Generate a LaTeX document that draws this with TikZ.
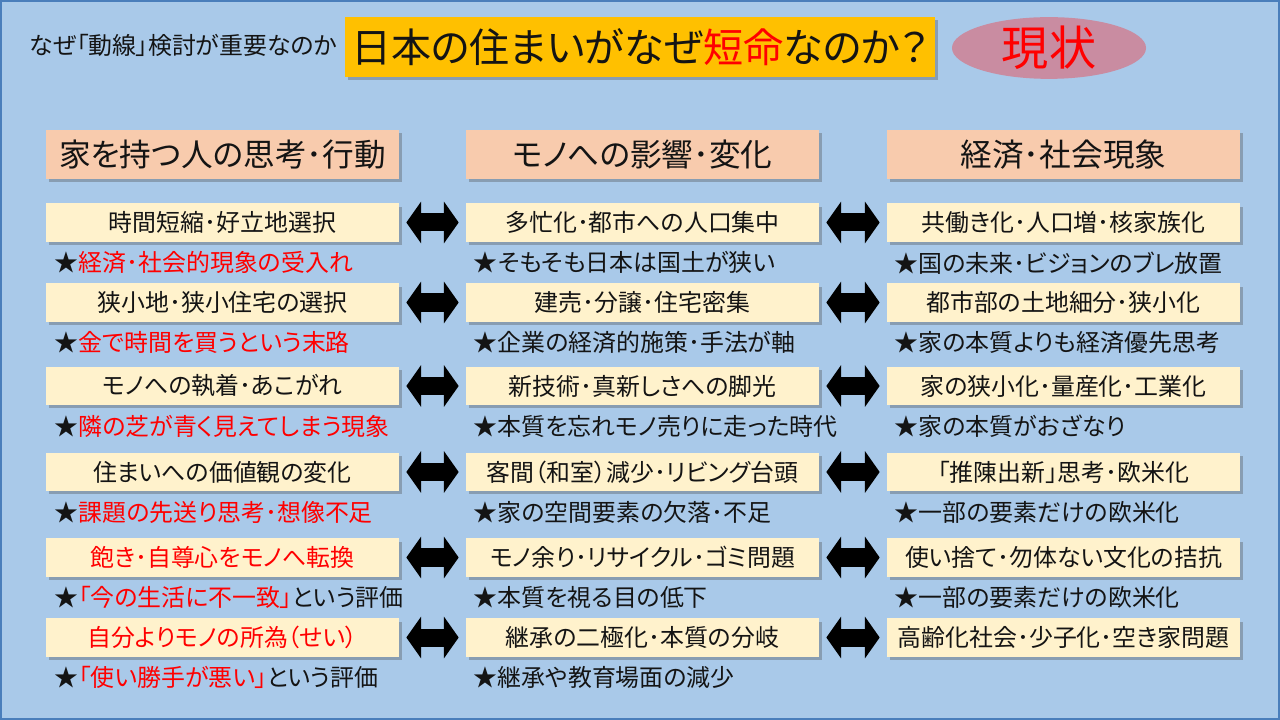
\documentclass[tikz,border=0pt]{standalone}
\usepackage{fontspec}
\setmainfont[RawFeature=+palt]{Noto Sans CJK JP}
\usetikzlibrary{arrows.meta,positioning,calc,shadows,shapes.geometric}
\definecolor{ink}{HTML}{141414}
\definecolor{alert}{HTML}{FF0000}
\definecolor{sky}{HTML}{A9C9E9}
\definecolor{skyline}{HTML}{4A7EBB}
\definecolor{gold}{HTML}{FFC000}
\definecolor{peach}{HTML}{F8CBAD}
\definecolor{cream}{HTML}{FFF2CC}
\definecolor{rose}{HTML}{C98CA1}
\newcommand{\bodyfont}{\fontsize{17}{20}\selectfont}
\tikzset{
  every node/.style={text=ink, inner sep=0pt},
  shade/.style={drop shadow={shadow xshift=0.07cm, shadow yshift=-0.08cm, opacity=0.35, fill=black!70}},
  panel/.style={shade, minimum width=8.825cm, minimum height=0.95cm, font=\bodyfont},
  head/.style={panel, fill=peach, minimum height=1.225cm, font=\fontsize{22.5}{26}\selectfont},
  item/.style={panel, fill=cream},
  note/.style={anchor=west, font=\bodyfont},
  link/.style={{Triangle[length=0.37cm,width=1.03cm]}-{Triangle[length=0.37cm,width=1.03cm]}, line width=0.45cm, draw=black, shorten <=0.175cm, shorten >=0.175cm},
}
\newcommand{\itemrow}[8]{% #1 row, #2 y, then box / note for each column
  \node[item] (a#1) at (222.5,#2) {#3};
  \node[note] (na#1) at ($(a#1.south west)+(9,21)$) {#4};
  \node[item] (b#1) at (642.5,#2) {#5};
  \node[note] (nb#1) at ($(b#1.south west)+(8,21)$) {#6};
  \node[item] (c#1) at (1063.5,#2) {#7};
  \node[note] (nc#1) at ($(c#1.south west)+(8,21)$) {#8};
  \draw[link] (a#1) -- (b#1);
  \draw[link] (b#1) -- (c#1);
}

\begin{document}
\begin{tikzpicture}[x=0.025cm, y=-0.025cm]
  \useasboundingbox (0,0) rectangle (1280,720);
  \draw[fill=sky, draw=skyline, line width=0.05cm] (1,1) rectangle (1279,719);

  \node[anchor=west, font=\fontsize{17}{19}\selectfont] (lead) at (29,45) {なぜ「動線」検討が重要なのか};
  \node[shade, fill=gold, minimum width=14.75cm, minimum height=1.5cm, font=\fontsize{28.5}{32}\selectfont] (title) at (640,47) {日本の住まいがなぜ\textcolor{alert}{短命}なのか？};
  \node[ellipse, fill=rose, minimum width=4.85cm, minimum height=1.4cm, text=alert, font=\fontsize{33.5}{38}\selectfont] (state) at (1049,48) {現状};

  \node[head] (h1) at (222.5,154.5) {家を持つ人の思考･行動};
  \node[head] (h2) at (642.5,154.5) {モノへの影響･変化};
  \node[head] (h3) at (1063.5,154.5) {経済･社会現象};

  \itemrow{1}{222.5}{時間短縮･好立地選択}{★\textcolor{alert}{経済･社会的現象の受入れ}}
    {多忙化･都市への人口集中}{★そもそも日本は国土が狭い}
    {共働き化･人口増･核家族化}{★国の未来･ビジョンのブレ放置}
  \itemrow{2}{302.5}{狭小地･狭小住宅の選択}{★\textcolor{alert}{金で時間を買うという末路}}
    {建売･分譲･住宅密集}{★企業の経済的施策･手法が軸}
    {都市部の土地細分･狭小化}{★家の本質よりも経済優先思考}
  \itemrow{3}{386}{モノへの執着･あこがれ}{★\textcolor{alert}{隣の芝が青く見えてしまう現象}}
    {新技術･真新しさへの脚光}{★本質を忘れモノ売りに走った時代}
    {家の狭小化･量産化･工業化}{★家の本質がおざなり}
  \itemrow{4}{472}{住まいへの価値観の変化}{★\textcolor{alert}{課題の先送り思考･想像不足}}
    {客間（和室）減少･リビング台頭}{★家の空間要素の欠落･不足}
    {「推陳出新」思考･欧米化}{★一部の要素だけの欧米化}
  \itemrow{5}{557.5}{\textcolor{alert}{飽き･自尊心をモノへ転換}}{★\textcolor{alert}{「今の生活に不一致」}という評価}
    {モノ余り･リサイクル･ゴミ問題}{★本質を視る目の低下}
    {使い捨て･勿体ない文化の拮抗}{★一部の要素だけの欧米化}
  \itemrow{6}{637.5}{\textcolor{alert}{自分よりモノの所為（せい）}}{★\textcolor{alert}{「使い勝手が悪い」}という評価}
    {継承の二極化･本質の分岐}{★継承や教育場面の減少}
    {高齢化社会･少子化･空き家問題}{}
\end{tikzpicture}
\end{document}
